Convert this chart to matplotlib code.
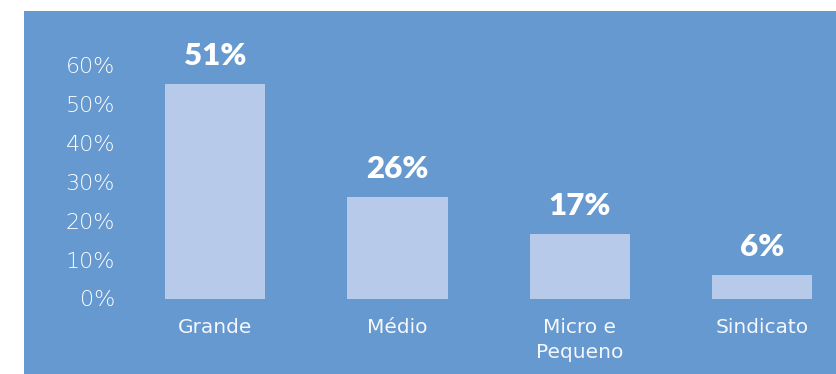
import matplotlib.pyplot as plt
from matplotlib.patches import Rectangle

# data
categories = ['Grande', 'Médio', 'Micro e\nPequeno', 'Sindicato']
bar_heights = [55.1, 26.1, 16.6, 6.0]   # drawn heights (% on axis)
value_labels = ['51%', '26%', '17%', '6%']
y_ticks = [0, 10, 20, 30, 40, 50, 60]

bg_blue = '#6599cf'
bar_color = '#b7cae9'
txt = '#f4f7fc'

plt.rcParams['font.family'] = ['DejaVu Sans']

fig = plt.figure(figsize=(8.37, 3.74), dpi=100)
fig.patch.set_facecolor('white')

# blue panel behind the chart
fig.patches.append(Rectangle((24 / 837, 0), 1 - 24 / 837, 1 - 11 / 374,
                             transform=fig.transFigure, facecolor=bg_blue,
                             edgecolor='none', zorder=-5))

ax = fig.add_axes([122 / 837, (374 - 298.5) / 374, (837 - 122) / 837, (298.5 - 11) / 374])
ax.set_zorder(2)
ax.patch.set_visible(False)

x = range(len(categories))
ax.bar(x, bar_heights, width=0.55, color=bar_color, zorder=2)

for xi, h, lab in zip(x, bar_heights, value_labels):
    ax.annotate(lab, (xi, h), xytext=(0, 10), textcoords='offset points',
                ha='center', va='bottom', color='white', fontsize=22.5,
                fontweight='heavy', family=['Lato', 'DejaVu Sans'])

ax.set_xlim(-0.51, 3.41)
ax.set_ylim(0, 73.9)
ax.set_yticks(y_ticks)
ax.set_yticklabels([f'{t}%' for t in y_ticks], color='white', fontsize=16,
                   fontweight='light')
ax.set_xticks(list(x))
ax.set_xticklabels(categories, color=txt, fontsize=14.5, linespacing=1.4)
ax.tick_params(axis='y', length=0, pad=5)
ax.tick_params(axis='x', length=0, pad=14)
for s in ax.spines.values():
    s.set_visible(False)

fig.savefig('out.png', dpi=100, facecolor='white')
